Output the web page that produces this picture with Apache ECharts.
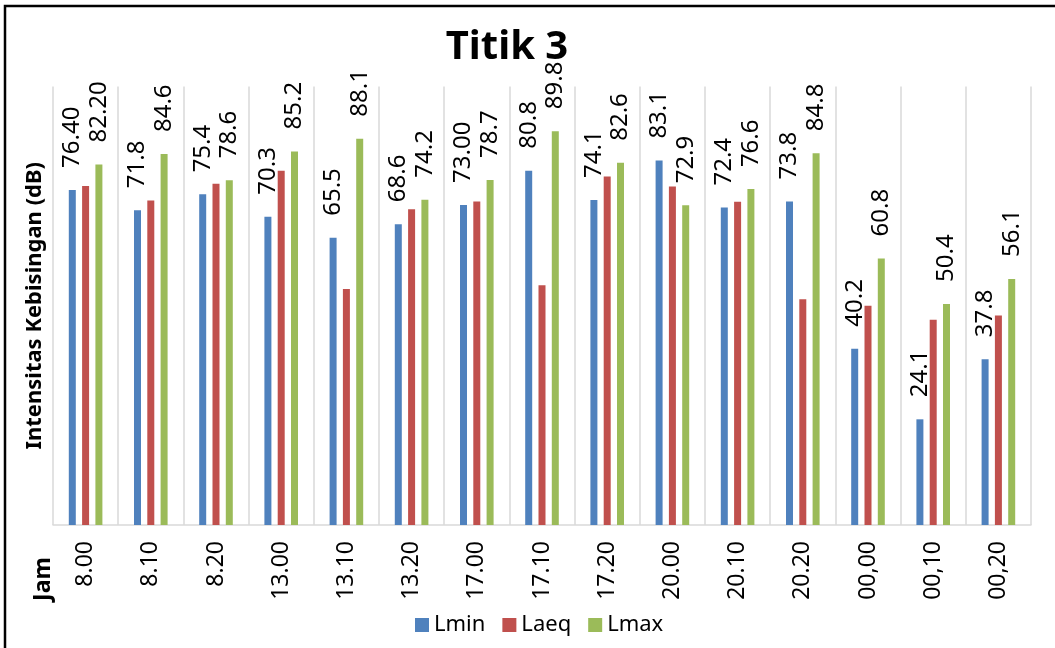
<!DOCTYPE html>
<html>
<head>
<meta charset="utf-8">
<script src="https://cdn.jsdelivr.net/npm/echarts@6/dist/echarts.min.js"></script>
<style>
html,body{margin:0;padding:0;background:#fff;}
#chart{width:1055px;height:648px;}
</style>
</head>
<body>
<div id="chart"></div>
<script>
var categories = ["8.00","8.10","8.20","13.00","13.10","13.20","17.00","17.10","17.20","20.00","20.10","20.20","00,00","00,10","00,20"];
var lmin = [76.4,71.8,75.4,70.3,65.5,68.6,73.0,80.8,74.1,83.1,72.4,73.8,40.2,24.1,37.8];
var laeq = [77.3,74.0,77.8,80.8,53.8,72.0,73.8,54.7,79.5,77.2,73.7,51.5,50.0,46.8,47.8];
var lmax = [82.2,84.6,78.6,85.2,88.1,74.2,78.7,89.8,82.6,72.9,76.6,84.8,60.8,50.4,56.1];
var lminLabels = ["76.40","71.8","75.4","70.3","65.5","68.6","73.00","80.8","74.1","83.1","72.4","73.8","40.2","24.1","37.8"];
var lmaxLabels = ["82.20","84.6","78.6","85.2","88.1","74.2","78.7","89.8","82.6","72.9","76.6","84.8","60.8","50.4","56.1"];
var seriesNames = ["Lmin","Laeq","Lmax"];
var titleText = "Titik 3";
var yName = "Intensitas Kebisingan (dB)";
var xName = "Jam";

var FONT = "Noto Sans";
var chart = echarts.init(document.getElementById('chart'), null, {renderer:'canvas'});

function labelCfg(arr){
  return {
    show: true,
    position: 'top',
    rotate: 90,
    align: 'left',
    verticalAlign: 'middle',
    distance: 22,
    fontFamily: FONT,
    fontSize: 24,
    color: '#000',
    formatter: function(p){ return arr[p.dataIndex]; }
  };
}

var option = {
  animation: false,
  backgroundColor: '#fff',
  textStyle: {fontFamily: FONT},
  title: {
    text: titleText,
    left: 502,
    textAlign: 'center',
    top: 23,
    textStyle: {fontFamily: FONT, fontSize: 40, fontWeight: 'bold', color: '#000'}
  },
  legend: {
    data: seriesNames,
    left: 410,
    top: 609,
    icon: 'rect',
    itemWidth: 14,
    itemHeight: 14,
    itemGap: 17,
    textStyle: {fontFamily: FONT, fontSize: 22, color: '#000'}
  },
  grid: {left: 53, right: 24, top: 86.5, bottom: 123, containLabel: false},
  xAxis: {
    type: 'category',
    data: categories,
    boundaryGap: true,
    axisLine: {show: true, lineStyle: {color: '#d9d9d9', width: 1.5}},
    axisTick: {show: false},
    splitLine: {show: true, interval: 0, lineStyle: {color: '#d9d9d9', width: 1.5}},
    axisLabel: {
      interval: 0,
      rotate: 90,
      margin: 16,
      fontFamily: FONT,
      fontSize: 23,
      color: '#000'
    }
  },
  yAxis: {
    type: 'value',
    min: 0,
    max: 100,
    interval: 20,
    name: yName,
    nameLocation: 'middle',
    nameGap: 7,
    nameTextStyle: {fontFamily: FONT, fontSize: 22, fontWeight: 'bold', color: '#000'},
    axisLine: {show: false},
    axisTick: {show: false},
    axisLabel: {show: false},
    splitLine: {show: false}
  },
  graphic: [
    {
      type: 'rect',
      silent: true,
      z: 100,
      shape: {x: 5, y: 6, width: 1200, height: 800},
      style: {fill: 'none', stroke: '#000', lineWidth: 2.5}
    },
    {
      type: 'text',
      x: 43,
      y: 579,
      rotation: Math.PI / 2,
      style: {
        text: xName,
        fontFamily: FONT,
        fontSize: 23,
        fontWeight: 'bold',
        fill: '#000',
        align: 'center',
        verticalAlign: 'middle'
      }
    }
  ],
  series: [
    {
      name: seriesNames[0],
      type: 'bar',
      data: lmin,
      barWidth: 7,
      barGap: '90%',
      itemStyle: {color: '#4F81BD'},
      label: labelCfg(lminLabels)
    },
    {
      name: seriesNames[1],
      type: 'bar',
      data: laeq,
      barWidth: 7,
      barGap: '90%',
      itemStyle: {color: '#C0504D'}
    },
    {
      name: seriesNames[2],
      type: 'bar',
      data: lmax,
      barWidth: 7,
      barGap: '90%',
      itemStyle: {color: '#9BBB59'},
      label: labelCfg(lmaxLabels)
    }
  ]
};
chart.setOption(option);
</script>
</body>
</html>
